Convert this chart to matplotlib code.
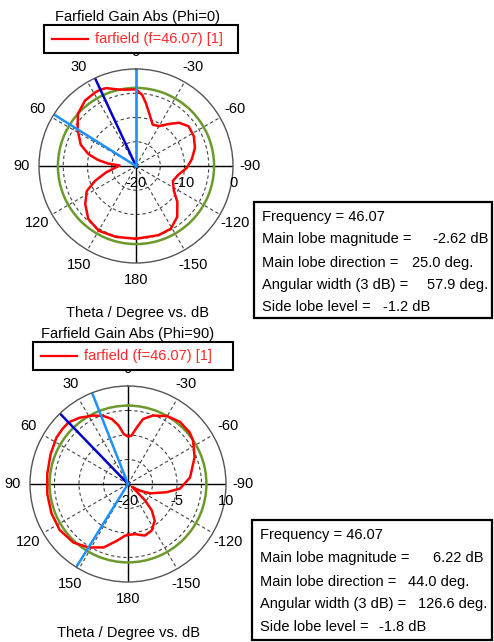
import numpy as np
import matplotlib
matplotlib.use("Agg")
import matplotlib.pyplot as plt
from matplotlib.patches import Rectangle
from matplotlib.lines import Line2D

plt.rcParams['font.family'] = ['Liberation Sans', 'DejaVu Sans']
plt.rcParams['font.size'] = 10.5

W, H = 494, 642

# tick labels round the circle (theta, counter-clockwise from top)
angle_ticks = [0, 30, 60, 90, 120, 150, 180, 210, 240, 270, 300, 330]
angle_labels = ['0', '30', '60', '90', '120', '150', '180', '-150', '-120', '-90', '-60', '-30']

# Phi = 0 cut (theta in deg, gain in dB)
theta_phi0 = [-180, -162, -151, -141, -131, -123, -112, -101, -92, -83, -73, -63, -53, -45, -38,
              -30, -22, -15, -9, -5, 0, 4, 12, 21, 25, 29, 38, 48, 58, 69, 76, 81, 85, 88, 93,
              102, 110, 117, 127, 138, 150, 164, 180]
gain_phi0 = [-5.0, -5.0, -5.2, -6.5, -8.7, -10.7, -11.8, -11.0, -9.5, -8.4, -7.3, -6.6, -6.4, -7.4, -9.0,
             -10.5, -10.8, -9.1, -6.9, -5.3, -4.2, -4.2, -3.9, -2.8, -2.62, -2.65, -2.9, -3.9, -5.8, -7.8, -9.9, -12.1, -14.2, -16.6, -16.0,
             -13.7, -11.0, -8.6, -6.9, -5.3, -4.6, -4.8, -5.0]

# Phi = 90 cut
theta_phi90 = [-180, -172, -162, -153, -144, -138, -134, -131, -126, -119, -113, -102, -95, -84,
               -68, -56, -50, -40, -30, -20, -13, -9, -4, 0, 5, 9, 14, 20, 27, 36, 44, 50, 57,
               69, 83, 97, 111, 124, 137, 148, 159, 169, 177, 180]
gain_phi90 = [-4.4, -4.5, -3.4, -4.0, -6.1, -9.1, -12.7, -16.5, -18.5, -15.8, -12.7, -7.9, -4.0, -0.9,
              2.0, 4.0, 4.6, 4.8, 4.0, 2.3, 0.4, -2.4, -5.2, -5.5, -4.6, -1.9, 0.5, 2.2, 3.5, 5.1, 6.22, 6.2, 6.1,
              5.4, 4.9, 4.9, 5.1, 5.2, 4.5, 2.9, 0.8, -2.3, -4.2, -4.4]

# markers: main lobe direction, 3 dB beam edges, threshold circle
main_dir = [25.0, 44.0]
beam_edges = [[0.0, 57.9], [21.5, 148.1]]
level_circle = [-3.9, 4.0]

info_labels = ["Main lobe magnitude =", "Main lobe direction =", "Angular width (3 dB) =", "Side lobe level ="]
info_phi0 = ["-2.62 dB", "25.0 deg.", "57.9 deg.", "-1.2 dB"]
info_phi90 = ["6.22 dB", "44.0 deg.", "126.6 deg.", "-1.8 dB"]

RED = '#ff0000'
GREEN = '#6b9a2a'
DBLUE = '#0000cc'
LBLUE = '#1e90ff'

fig = plt.figure(figsize=(W / 100, H / 100), dpi=100)


def fx(x):
    return x / W


def fy(y):
    return 1 - y / H


def panel(cx, cy, R, rlim, rings, rlabels, theta, gain, mdir, edges, lev, title, tx, ty, leg, xl_y):
    ax = fig.add_axes([fx(cx - R), fy(cy + R), 2 * R / W, 2 * R / H], projection='polar')
    ax.set_theta_zero_location('N')
    ax.set_theta_direction(1)
    ax.set_ylim(rlim)
    ax.set_rgrids(rings, labels=[''] * len(rings))
    ax.set_thetagrids(angle_ticks, angle_labels)
    ax.tick_params(axis='x', pad=2, labelsize=10.5)
    ax.grid(True, color='#444444', ls=(0, (3, 2.5)), lw=0.8)
    ax.spines['polar'].set_color('#555555')
    ax.spines['polar'].set_linewidth(1.0)
    for a in (0, 90, 180, 270):
        ax.axvline(np.radians(a), color='black', lw=1.0)

    ax.axhline(lev, color=GREEN, lw=1.8)
    ax.plot(np.radians(theta), gain, color=RED, lw=1.8)
    ax.axvline(np.radians(mdir), color=DBLUE, lw=1.8)
    for e in edges:
        ax.axvline(np.radians(e), color=LBLUE, lw=1.8)

    for r, s in rlabels:
        ax.annotate(s, xy=(np.radians(270), r), xytext=(0, -17), textcoords='offset pixels',
                    ha='center', va='center', fontsize=10.5)

    fig.text(fx(tx), fy(ty), title, ha='center', va='center')
    x0, y0, x1, y1 = leg
    fig.add_artist(Rectangle((fx(x0), fy(y1)), (x1 - x0) / W, (y1 - y0) / H,
                             transform=fig.transFigure, facecolor='white', edgecolor='black', lw=1.5))
    ym = (y0 + y1) / 2
    fig.add_artist(Line2D([fx(x0 + 8), fx(x0 + 44)], [fy(ym), fy(ym)], transform=fig.transFigure,
                          color=RED, lw=1.6))
    fig.text(fx(x0 + 51), fy(ym), "farfield (f=46.07) [1]", color='#ff2a2a', ha='left', va='center')
    fig.text(fx(tx), fy(xl_y), "Theta / Degree vs. dB", ha='center', va='center')
    return ax


def info_box(x0, y0, x1, y1, lines_y, values, value_x):
    fig.add_artist(Rectangle((fx(x0), fy(y1)), (x1 - x0) / W, (y1 - y0) / H,
                             transform=fig.transFigure, facecolor='white', edgecolor='black', lw=1.6))
    fig.text(fx(x0 + 8), fy(lines_y[0]), "Frequency = 46.07", ha='left', va='center')
    for lbl, val, vx, yy in zip(info_labels, values, value_x, lines_y[1:]):
        fig.text(fx(x0 + 8), fy(yy), lbl, ha='left', va='center')
        fig.text(fx(vx), fy(yy), val, ha='left', va='center')


panel(136, 166, 97, (-20, 0), [-15, -10, -5], [(-20, '-20'), (-10, '-10'), (0, '0')],
      theta_phi0, gain_phi0, main_dir[0], beam_edges[0], level_circle[0],
      "Farfield Gain Abs (Phi=0)", 137, 17, (44, 25, 238, 53), 313)

panel(128, 484, 98, (-20, 10), [-12.5, -5, 2.5], [(-20, '-20'), (-5, '-5'), (10, '10')],
      theta_phi90, gain_phi90, main_dir[1], beam_edges[1], level_circle[1],
      "Farfield Gain Abs (Phi=90)", 128, 334, (33, 342, 233, 370), 633)

info_box(254, 202, 492, 318, [217, 239, 263, 285, 307], info_phi0, [433, 412, 427, 383])
info_box(252, 520, 492, 640, [535, 558, 582, 604, 627], info_phi90, [433, 408, 418, 379])

fig.savefig("out.png", dpi=100)
